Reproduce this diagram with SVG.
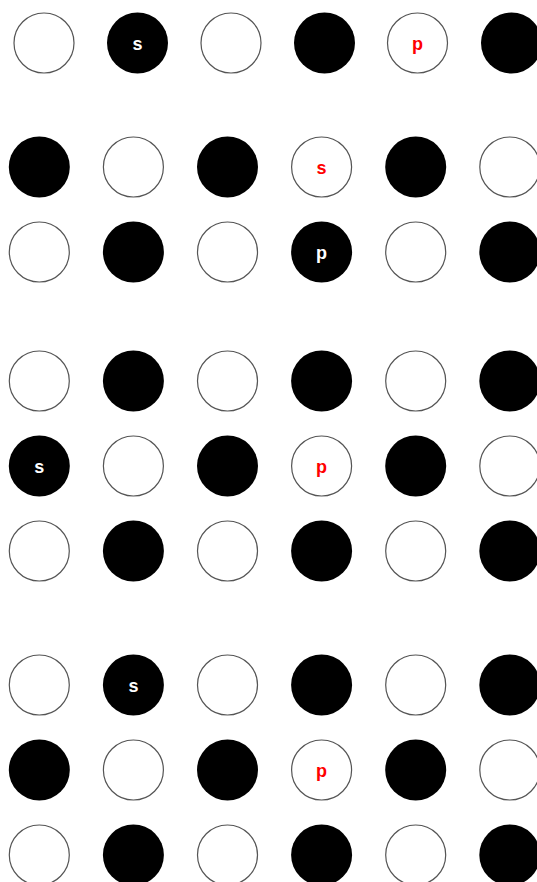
<svg xmlns="http://www.w3.org/2000/svg" width="537" height="882" viewBox="0 0 537 882">
<style>
.w{fill:#fff;stroke:#555;stroke-width:1.2}
.b{fill:#000;stroke:none}
.t{font-family:"Liberation Sans",Arial,sans-serif;font-size:18px;font-weight:bold;text-anchor:middle}
.tw{fill:#fff}
.tr{fill:#f00}
</style>
<rect width="537" height="882" fill="#fff"/>
<!-- Row 1 -->
<g id="r1c1"><circle class="w" cx="44" cy="43" r="30"/></g>
<g id="r1c2"><circle class="b" cx="137.5" cy="43" r="30.5"/><text class="t tw" x="137.5" y="50">s</text></g>
<g id="r1c3"><circle class="w" cx="231" cy="43" r="30"/></g>
<g id="r1c4"><circle class="b" cx="324.5" cy="43" r="30.5"/></g>
<g id="r1c5"><circle class="w" cx="417.5" cy="43" r="30"/><text class="t tr" x="417.5" y="50">p</text></g>
<g id="r1c6"><circle class="b" cx="511.5" cy="43" r="30.5"/></g>
<!-- Row 2 -->
<g id="r2c1"><circle class="b" cx="39.3" cy="167" r="30.5"/></g>
<g id="r2c2"><circle class="w" cx="133.4" cy="167" r="30"/></g>
<g id="r2c3"><circle class="b" cx="227.5" cy="167" r="30.5"/></g>
<g id="r2c4"><circle class="w" cx="321.6" cy="167" r="30"/><text class="t tr" x="321.6" y="174">s</text></g>
<g id="r2c5"><circle class="b" cx="415.7" cy="167" r="30.5"/></g>
<g id="r2c6"><circle class="w" cx="509.8" cy="167" r="30"/></g>
<!-- Row 3 -->
<g id="r3c1"><circle class="w" cx="39.3" cy="252" r="30"/></g>
<g id="r3c2"><circle class="b" cx="133.4" cy="252" r="30.5"/></g>
<g id="r3c3"><circle class="w" cx="227.5" cy="252" r="30"/></g>
<g id="r3c4"><circle class="b" cx="321.6" cy="252" r="30.5"/><text class="t tw" x="321.6" y="259">p</text></g>
<g id="r3c5"><circle class="w" cx="415.7" cy="252" r="30"/></g>
<g id="r3c6"><circle class="b" cx="509.8" cy="252" r="30.5"/></g>
<!-- Row 4 -->
<g id="r4c1"><circle class="w" cx="39.3" cy="381" r="30"/></g>
<g id="r4c2"><circle class="b" cx="133.4" cy="381" r="30.5"/></g>
<g id="r4c3"><circle class="w" cx="227.5" cy="381" r="30"/></g>
<g id="r4c4"><circle class="b" cx="321.6" cy="381" r="30.5"/></g>
<g id="r4c5"><circle class="w" cx="415.7" cy="381" r="30"/></g>
<g id="r4c6"><circle class="b" cx="509.8" cy="381" r="30.5"/></g>
<!-- Row 5 -->
<g id="r5c1"><circle class="b" cx="39.3" cy="466" r="30.5"/><text class="t tw" x="39.3" y="473">s</text></g>
<g id="r5c2"><circle class="w" cx="133.4" cy="466" r="30"/></g>
<g id="r5c3"><circle class="b" cx="227.5" cy="466" r="30.5"/></g>
<g id="r5c4"><circle class="w" cx="321.6" cy="466" r="30"/><text class="t tr" x="321.6" y="473">p</text></g>
<g id="r5c5"><circle class="b" cx="415.7" cy="466" r="30.5"/></g>
<g id="r5c6"><circle class="w" cx="509.8" cy="466" r="30"/></g>
<!-- Row 6 -->
<g id="r6c1"><circle class="w" cx="39.3" cy="551" r="30"/></g>
<g id="r6c2"><circle class="b" cx="133.4" cy="551" r="30.5"/></g>
<g id="r6c3"><circle class="w" cx="227.5" cy="551" r="30"/></g>
<g id="r6c4"><circle class="b" cx="321.6" cy="551" r="30.5"/></g>
<g id="r6c5"><circle class="w" cx="415.7" cy="551" r="30"/></g>
<g id="r6c6"><circle class="b" cx="509.8" cy="551" r="30.5"/></g>
<!-- Row 7 -->
<g id="r7c1"><circle class="w" cx="39.3" cy="685" r="30"/></g>
<g id="r7c2"><circle class="b" cx="133.4" cy="685" r="30.5"/><text class="t tw" x="133.4" y="692">s</text></g>
<g id="r7c3"><circle class="w" cx="227.5" cy="685" r="30"/></g>
<g id="r7c4"><circle class="b" cx="321.6" cy="685" r="30.5"/></g>
<g id="r7c5"><circle class="w" cx="415.7" cy="685" r="30"/></g>
<g id="r7c6"><circle class="b" cx="509.8" cy="685" r="30.5"/></g>
<!-- Row 8 -->
<g id="r8c1"><circle class="b" cx="39.3" cy="770" r="30.5"/></g>
<g id="r8c2"><circle class="w" cx="133.4" cy="770" r="30"/></g>
<g id="r8c3"><circle class="b" cx="227.5" cy="770" r="30.5"/></g>
<g id="r8c4"><circle class="w" cx="321.6" cy="770" r="30"/><text class="t tr" x="321.6" y="777">p</text></g>
<g id="r8c5"><circle class="b" cx="415.7" cy="770" r="30.5"/></g>
<g id="r8c6"><circle class="w" cx="509.8" cy="770" r="30"/></g>
<!-- Row 9 -->
<g id="r9c1"><circle class="w" cx="39.3" cy="855" r="30"/></g>
<g id="r9c2"><circle class="b" cx="133.4" cy="855" r="30.5"/></g>
<g id="r9c3"><circle class="w" cx="227.5" cy="855" r="30"/></g>
<g id="r9c4"><circle class="b" cx="321.6" cy="855" r="30.5"/></g>
<g id="r9c5"><circle class="w" cx="415.7" cy="855" r="30"/></g>
<g id="r9c6"><circle class="b" cx="509.8" cy="855" r="30.5"/></g>
</svg>
